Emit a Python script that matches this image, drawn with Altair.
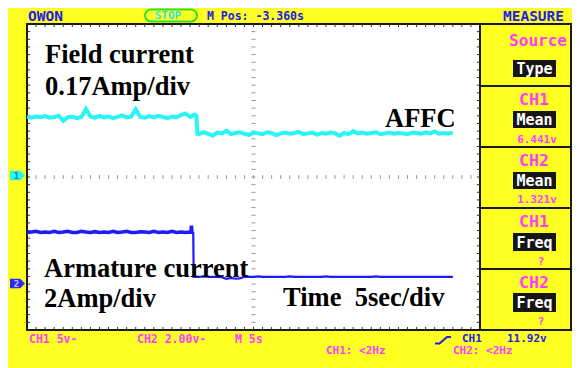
import altair as alt
import pandas as pd

# ---------------- trace data (screen divisions, 5 s/div) ----------------
# CH1 (field current, cyan) samples every 0.1 div
ch1_before = [1.57, 1.55, 1.58, 1.56, 1.59, 1.55, 1.57, 1.60, 1.47, 1.56,
              1.58, 1.54, 1.57, 1.78, 1.58, 1.55, 1.60, 1.56, 1.58, 1.54,
              1.57, 1.61, 1.56, 1.58, 1.77, 1.57, 1.55, 1.59, 1.56, 1.60,
              1.57, 1.54, 1.58, 1.56, 1.62, 1.66, 1.57, 1.63]
ch1_after = [1.12, 1.17, 1.13, 1.08, 1.16, 1.14, 1.21, 1.12, 1.15, 1.17,
             1.13, 1.10, 1.16, 1.14, 1.12, 1.17, 1.15, 1.09, 1.14, 1.16,
             1.13, 1.15, 1.18, 1.12, 1.14, 1.16, 1.11, 1.15, 1.13, 1.17,
             1.14, 1.08, 1.15, 1.12, 1.20, 1.14, 1.16, 1.13, 1.15, 1.17,
             1.12, 1.14, 1.16, 1.13, 1.15, 1.14, 1.12, 1.16, 1.15, 1.13,
             1.17, 1.14, 1.19, 1.13, 1.15, 1.14, 1.16]
# CH2 (armature current, blue)
ch2_before = [-1.45, -1.44, -1.42, -1.45, -1.44, -1.45, -1.42, -1.45, -1.44, -1.42,
              -1.45, -1.45, -1.42, -1.44, -1.45, -1.43, -1.45, -1.44, -1.45, -1.42,
              -1.45, -1.44, -1.42, -1.45, -1.45, -1.43, -1.44, -1.45, -1.42, -1.45,
              -1.44, -1.45, -1.42, -1.45, -1.44, -1.45, -1.44]
ch2_edge_t = [3.62, 3.63, 3.64, 3.67, 3.68]
ch2_edge_v = [-1.44, -1.27, -1.44, -1.44, -2.61]
ch2_after = [-2.61, -2.61, -2.60, -2.61, -2.61, -2.61, -2.62, -2.66, -2.64, -2.66,
             -2.65, -2.61, -2.61, -2.61, -2.60, -2.61, -2.61, -2.61, -2.61, -2.61,
             -2.61, -2.60, -2.61, -2.61, -2.61, -2.61, -2.61, -2.61, -2.61, -2.60,
             -2.61, -2.61, -2.61, -2.61, -2.61, -2.61, -2.61, -2.61, -2.61, -2.61,
             -2.60, -2.61, -2.61, -2.61, -2.61, -2.61, -2.61, -2.61, -2.61, -2.61,
             -2.61, -2.61, -2.61, -2.61, -2.61, -2.61, -2.61, -2.61]

YELLOW = "#ffff22"
BLUE = "#2020e8"
MAG = "#ff3cff"
CYAN = "#2af5f5"
TRACE_BLUE = "#1c1cff"


def X(px):
    return (px - 27) / 45.3


def Y(py):
    return (177 - py) / 38.25


def times(t0, vals):
    return [round(t0 + 0.1 * i, 3) for i in range(len(vals))]


ch1_t = times(0.0, ch1_before) + [3.74, 3.76] + times(3.8, ch1_after)
ch1_v = ch1_before + [1.60, 1.13] + ch1_after
ch2a_t = times(0.0, ch2_before) + ch2_edge_t[:4]
ch2a_v = ch2_before + ch2_edge_v[:4]
ch2b_t = ch2_edge_t[3:] + times(3.7, ch2_after)
ch2b_v = ch2_edge_v[3:] + ch2_after

df1 = pd.DataFrame({"x": ch1_t, "y": ch1_v, "i": range(len(ch1_t))})
df2a = pd.DataFrame({"x": ch2a_t, "y": ch2a_v, "i": range(len(ch2a_t))})
df2b = pd.DataFrame({"x": ch2b_t, "y": ch2b_v, "i": range(len(ch2b_t))})

xs = alt.Scale(domain=[0, 10], nice=False, zero=False)
ys = alt.Scale(domain=[-4, 4], nice=False, zero=False)

# ---------------- grid (axes) ----------------
grid_src = pd.DataFrame({"x": [0.0], "y": [0.0]})
grid = alt.Chart(grid_src).mark_point(opacity=0).encode(
    x=alt.X("x:Q", scale=xs, axis=alt.Axis(values=list(range(1, 10)), grid=True, labels=False,
                                          ticks=False, domain=False, title=None,
                                          gridDash=[1.5, 6.15], gridColor="#8a8a8a", gridWidth=1)),
    y=alt.Y("y:Q", scale=ys, axis=alt.Axis(values=list(range(-3, 4)), grid=True, labels=False,
                                          ticks=False, domain=False, title=None,
                                          gridDash=[1.5, 7.56], gridColor="#8a8a8a", gridWidth=1)),
)

# ---------------- edge / centre ticks ----------------
tk = []
for k in range(1, 50):
    x = 0.2 * k
    tk.append((x, x, 4, 4 - 0.08, "e"))
    tk.append((x, x, -4, -4 + 0.08, "e"))
    tk.append((x, x, 0.05, -0.05, "c"))
for k in range(1, 40):
    y = -4 + 0.2 * k
    tk.append((0, 0.07, y, y, "e"))
    tk.append((10, 10 - 0.07, y, y, "e"))
    tk.append((5 - 0.045, 5 + 0.045, y, y, "c"))
ticks = pd.DataFrame(tk, columns=["x", "x2", "y", "y2", "kind"])
edge_ticks = alt.Chart(ticks[ticks.kind == "e"]).mark_rule(color="#333", strokeWidth=1).encode(
    x=alt.X("x:Q", scale=xs, axis=None), x2="x2", y=alt.Y("y:Q", scale=ys, axis=None), y2="y2")
cen_ticks = alt.Chart(ticks[ticks.kind == "c"]).mark_rule(color="#999", strokeWidth=1).encode(
    x=alt.X("x:Q", scale=xs, axis=None), x2="x2", y=alt.Y("y:Q", scale=ys, axis=None), y2="y2")


# ---------------- traces ----------------
def trace(df, color, w):
    return alt.Chart(df).mark_line(color=color, strokeWidth=w, interpolate="linear").encode(
        x=alt.X("x:Q", scale=xs, axis=None), y=alt.Y("y:Q", scale=ys, axis=None), order="i:Q")


tr1 = trace(df1, CYAN, 4)
tr2a = trace(df2a, TRACE_BLUE, 3.6)
tr2b = trace(df2b, TRACE_BLUE, 2.2)

# ---------------- panel frame ----------------
PR = 571
frame_px = [
    (480, 572, 24, 24), (480, 572, 330, 330), (PR, PR, 24, 330),
    (480, 572, 86, 86), (480, 572, 147, 147), (480, 572, 208, 208), (480, 572, 269, 269),
]
frame = pd.DataFrame([(X(a), X(b), Y(c), Y(d)) for a, b, c, d in frame_px],
                     columns=["x", "x2", "y", "y2"])
frame_l = alt.Chart(frame).mark_rule(color="#1a1a1a", strokeWidth=2).encode(
    x=alt.X("x:Q", scale=xs, axis=None), x2="x2", y=alt.Y("y:Q", scale=ys, axis=None), y2="y2")

box_labels = ["Type", "Mean", "Mean", "Freq", "Freq"]
box_top = [60, 111, 172, 233, 293]
box_bot = [77, 128, 189, 251, 312]
boxes = pd.DataFrame({"x": [X(513)] * 5, "x2": [X(556)] * 5,
                      "y": [Y(v) for v in box_top], "y2": [Y(v) for v in box_bot],
                      "label": box_labels,
                      "yc": [Y((a + b) / 2 + 0.5) for a, b in zip(box_top, box_bot)],
                      "xc": [X(534.5)] * 5})
box_l = alt.Chart(boxes).mark_rect(color="#161616").encode(
    x=alt.X("x:Q", scale=xs, axis=None), x2="x2", y=alt.Y("y:Q", scale=ys, axis=None), y2="y2")
box_t = alt.Chart(boxes).mark_text(font="DejaVu Sans Mono", fontWeight="bold", fontSize=15,
                                   color="white", baseline="middle", align="center").encode(
    x=alt.X("xc:Q", scale=xs, axis=None), y=alt.Y("yc:Q", scale=ys, axis=None), text="label:N")

stop_box = pd.DataFrame({"x": [X(145)], "x2": [X(197)], "y": [Y(9.5)], "y2": [Y(21.5)]})
stop_l = alt.Chart(stop_box).mark_rect(fill=YELLOW, stroke="#2ee02e", strokeWidth=2, cornerRadius=6).encode(
    x=alt.X("x:Q", scale=xs, axis=None), x2="x2", y=alt.Y("y:Q", scale=ys, axis=None), y2="y2")

trig = pd.DataFrame({"x": [X(435), X(439.5), X(447), X(451)],
                     "y": [Y(343.5), Y(343.5), Y(337), Y(337)], "i": [0, 1, 2, 3]})
trig_l = alt.Chart(trig).mark_line(color=BLUE, strokeWidth=2).encode(
    x=alt.X("x:Q", scale=xs, axis=None), y=alt.Y("y:Q", scale=ys, axis=None), order="i:Q")

markers = pd.DataFrame({"x": [X(17.5), X(17.5)], "y": [Y(175.5), Y(283.5)],
                        "c": [CYAN, "#2a2aff"], "t": ["1", "2"], "tc": ["#1a7fa0", "#c8c8ff"]})
mark_sh = alt.Chart(markers).mark_point(
    shape="M-1,-0.62L0.35,-0.62L1,0L0.35,0.62L-1,0.62Z", filled=True, size=225, opacity=1).encode(
    x=alt.X("x:Q", scale=xs, axis=None), y=alt.Y("y:Q", scale=ys, axis=None),
    color=alt.Color("c:N", scale=None))
mark_tx = alt.Chart(markers).mark_text(font="DejaVu Sans Mono", fontWeight="bold", fontSize=9,
                                       baseline="middle", align="center", dx=-1).encode(
    x=alt.X("x:Q", scale=xs, axis=None), y=alt.Y("y:Q", scale=ys, axis=None),
    text="t:N", color=alt.Color("tc:N", scale=None))

# ---------------- instrument texts ----------------
left_txt = [
    ("OWON", 28, 17, 14.5, BLUE),
    ("M Pos: -3.360s", 207, 16.5, 11.5, BLUE),
    ("CH1 5v-", 29, 339.5, 11.5, MAG),
    ("CH2 2.00v-", 137, 339.5, 11.5, MAG),
    ("M 5s", 235, 339.5, 11.5, MAG),
    ("CH1", 462, 339, 11, BLUE),
    ("11.92v", 507, 339, 11, BLUE),
    ("CH1: <2Hz", 326, 351, 11, MAG),
    ("CH2: <2Hz", 453, 351, 11, MAG),
]
center_txt = [
    ("MEASURE", 533.5, 17, 14.5, BLUE),
    ("STOP", 168, 16, 11, "#30e6e6"),
    ("Source", 538, 41, 16, MAG),
    ("CH1", 534, 100, 16.5, MAG),
    ("6.441v", 537, 139.5, 11, MAG),
    ("CH2", 534, 161, 16.5, MAG),
    ("1.321v", 537, 200, 11, MAG),
    ("CH1", 534, 222, 16.5, MAG),
    ("?", 541, 262, 11, MAG),
    ("CH2", 534, 283, 16.5, MAG),
    ("?", 541, 322, 11, MAG),
]


def txt_df(rows):
    return pd.DataFrame({"t": [r[0] for r in rows], "x": [X(r[1]) for r in rows],
                         "y": [Y(r[2]) for r in rows], "s": [r[3] for r in rows],
                         "c": [r[4] for r in rows]})


def mono_layer(rows, align):
    return alt.Chart(txt_df(rows)).mark_text(font="DejaVu Sans Mono", fontWeight="bold",
                                             baseline="middle", align=align).encode(
        x=alt.X("x:Q", scale=xs, axis=None), y=alt.Y("y:Q", scale=ys, axis=None),
        text="t:N", size=alt.Size("s:Q", scale=None), color=alt.Color("c:N", scale=None))


mono_left = mono_layer(left_txt, "left")
mono_center = mono_layer(center_txt, "center")

# ---------------- annotations ----------------
notes = [
    ("Field current", 45, 63),
    ("0.17Amp/div", 45, 95),
    ("AFFC", 385, 127),
    ("Armature current", 44, 277),
    ("2Amp/div", 44, 307),
    ("Time\u00a0 5sec/div", 283, 306),
]
notes_df = pd.DataFrame({"t": [n[0] for n in notes], "x": [X(n[1]) for n in notes],
                         "y": [Y(n[2]) for n in notes]})
notes_l = alt.Chart(notes_df).mark_text(font="Liberation Serif", fontWeight="bold", fontSize=26.5,
                                        color="black", align="left", baseline="alphabetic").encode(
    x=alt.X("x:Q", scale=xs, axis=None), y=alt.Y("y:Q", scale=ys, axis=None), text="t:N")

chart = alt.layer(
    grid, cen_ticks, edge_ticks, tr1, tr2a, tr2b, frame_l, box_l, box_t, stop_l, trig_l,
    mark_sh, mark_tx, mono_left, mono_center, notes_l,
).properties(
    width=453, height=306,
    padding={"left": 19, "top": 16, "right": 92, "bottom": 38},
    autosize=alt.AutoSizeParams(type="none"),
    background=YELLOW,
).configure_view(fill="white", stroke="#1a1a1a", strokeWidth=2)

chart.save("out.html", embed_options={"renderer": "svg", "actions": False})
